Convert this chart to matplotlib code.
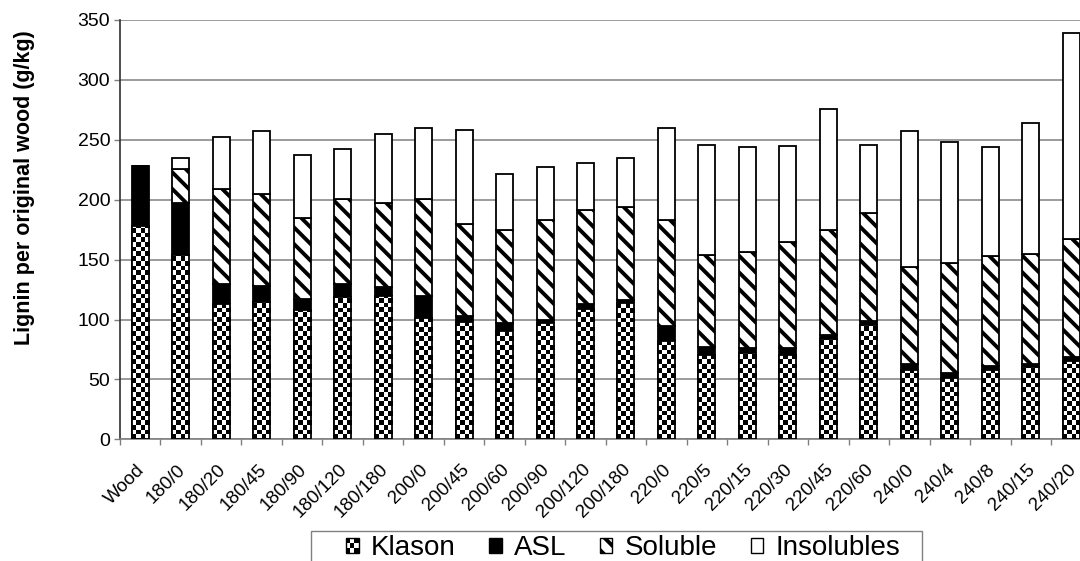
import numpy as np
import matplotlib
matplotlib.use("Agg")
import matplotlib.pyplot as plt
from matplotlib.patches import Patch, Rectangle
from matplotlib.legend_handler import HandlerBase
from matplotlib.transforms import ScaledTranslation

plt.rcParams['font.family'] = ['Liberation Sans', 'DejaVu Sans']
plt.rcParams['hatch.linewidth'] = 2.8

# lignin fractions (g/kg original wood)
samples = ['Wood', '180/0', '180/20', '180/45', '180/90', '180/120', '180/180',
           '200/0', '200/45', '200/60', '200/90', '200/120', '200/180',
           '220/0', '220/5', '220/15', '220/30', '220/45', '220/60',
           '240/0', '240/4', '240/8', '240/15', '240/20']
klason = [178, 154, 113, 115, 108, 119, 119.5,
          101, 98, 90, 97, 109, 113.5,
          82, 70, 72, 70.5, 83.5, 95.5,
          58, 51, 58, 60.5, 65.5]
asl = [50, 43, 17, 13, 9, 11, 7.5,
       18.5, 5, 7, 3, 4, 2.5,
       12.5, 7, 4, 5.5, 3.5, 3.5,
       5, 4, 3, 2.5, 3]
soluble = [0, 29, 79, 76.5, 67.5, 70.5, 70.5,
           81, 77, 78, 83, 78, 78,
           88.5, 77, 80, 89, 88, 90,
           81, 92, 92, 92, 98.5]
insoluble = [0, 9, 43, 52.5, 52.5, 41.5, 57.5,
             59, 78, 46.5, 44, 40, 40.5,
             76.5, 91.5, 88, 80, 100.5, 57,
             113, 101.5, 91, 109, 172]


class CheckerHandler(HandlerBase):
    """Small checkerboard square for the Klason legend entry."""

    def create_artists(self, legend, orig_handle, xdescent, ydescent,
                       width, height, fontsize, trans):
        n = 3
        cw, ch = width / n, height / n
        arts = [Rectangle((-xdescent, -ydescent), width, height,
                          facecolor='white', edgecolor='none', transform=trans)]
        for i in range(n):
            for j in range(n):
                if (i + j) % 2 == 0:
                    arts.append(Rectangle((-xdescent + i * cw, -ydescent + j * ch),
                                          cw, ch, facecolor='black',
                                          edgecolor='none', transform=trans))
        arts.append(Rectangle((-xdescent, -ydescent), width, height,
                              facecolor='none', edgecolor='black', lw=1.0,
                              transform=trans))
        return arts


W, H = 1080, 561
fig = plt.figure(figsize=(W / 100, H / 100), dpi=100)
ax = fig.add_axes([120 / W, 1 - 439.3 / H, 971.5 / W, 419.3 / H])

x = np.arange(len(samples))
width = 0.42
lw = 1.3
klason = np.array(klason)
asl = np.array(asl)
soluble = np.array(soluble)
insoluble = np.array(insoluble)

kb = ax.bar(x, klason, width, color='white', edgecolor='black', lw=lw, zorder=2)
ax.bar(x, asl, width, bottom=klason, color='black', edgecolor='black', lw=lw, zorder=2)
ax.bar(x, soluble, width, bottom=klason + asl, color='white', edgecolor='black',
       hatch='\\\\', lw=lw, zorder=2)
ax.bar(x, insoluble, width, bottom=klason + asl + soluble, color='white',
       edgecolor='black', lw=lw, zorder=2)

# checkerboard fill for Klason bars
cell = 3.9
for p in kb:
    h = p.get_height()
    ny = int(np.ceil(h / cell))
    img = np.indices((ny, 4)).sum(axis=0) % 2
    im = ax.imshow(img, cmap='gray', vmin=0, vmax=1, origin='lower',
                   interpolation='nearest', aspect='auto',
                   extent=(p.get_x(), p.get_x() + p.get_width(), 0, ny * cell),
                   zorder=2.5)
    im.set_clip_path(p)
ax.bar(x, klason, width, fill=False, edgecolor='black', lw=lw, zorder=3)

ax.set_xlim(-0.5, len(samples) - 0.5)
ax.set_ylim(0, 350)
ax.set_yticks(np.arange(0, 351, 50))
ax.yaxis.grid(True, color='#808080', lw=1.1)
ax.set_axisbelow(True)

ax.set_xticks(x)
ax.set_xticklabels(samples, rotation=45, ha='right', va='center',
                   rotation_mode='anchor', fontsize=13.5)
ax.set_xticks(np.arange(-0.5, len(samples), 1), minor=True)
ax.tick_params(axis='x', which='major', length=0, pad=20)
ax.tick_params(axis='x', which='minor', length=4, width=1, color='#808080')
ax.tick_params(axis='y', length=4, width=1, color='#808080', labelsize=14, pad=3)
off = ScaledTranslation(0.02, 0, fig.dpi_scale_trans)
for lab in ax.get_xticklabels():
    lab.set_transform(lab.get_transform() + off)

for s in ['top', 'right']:
    ax.spines[s].set_visible(False)
ax.spines['left'].set_color('#303030')
ax.spines['left'].set_linewidth(1.2)
ax.spines['bottom'].set_color('#808080')
ax.spines['bottom'].set_linewidth(1.2)

fig.text(25 / W, 1 - 188 / H, 'Lignin per original wood (g/kg)',
         rotation=90, ha='center', va='center', fontsize=15.5, fontweight='bold')

handles = [Patch(label='Klason'),
           Patch(facecolor='black', edgecolor='black', label='ASL'),
           Patch(facecolor='white', edgecolor='black', hatch='\\\\', label='Soluble'),
           Patch(facecolor='white', edgecolor='black', label='Insolubles')]
leg = fig.legend(handles=handles, loc='upper center', ncol=4,
                 bbox_to_anchor=(623 / W, 1 - 535 / H),
                 bbox_transform=fig.transFigure, borderaxespad=0, borderpad=0,
                 fontsize=20, frameon=False, handlelength=0.45, handleheight=0.45,
                 handletextpad=0.43, columnspacing=1.22,
                 handler_map={handles[0]: CheckerHandler()})

# legend box in the Excel style: wide side margins, bottom cut by the image edge
fig.canvas.draw()
bb = leg.get_window_extent()
fig.patches.append(Rectangle(((bb.x0 - 35) / W, -0.05), (bb.width + 57) / W,
                             0.05 + (H - 531) / H, transform=fig.transFigure,
                             facecolor='none', edgecolor='#808080', lw=1.0))

fig.savefig('out.png', dpi=100)
